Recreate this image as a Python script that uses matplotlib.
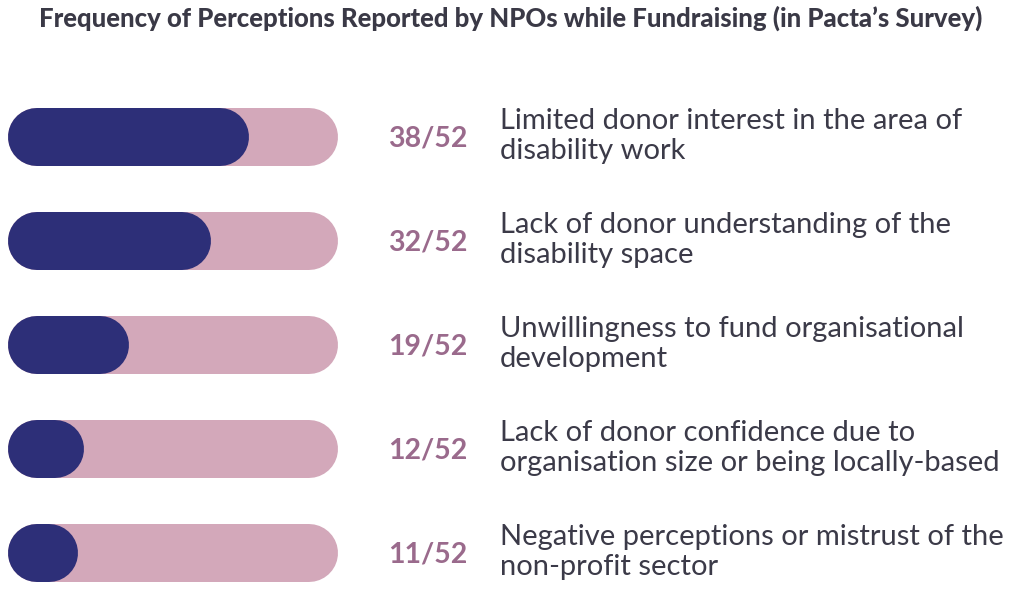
import matplotlib
matplotlib.use("Agg")
import matplotlib.pyplot as plt

# data
counts = [38, 32, 19, 12, 11]
total = 52
labels = [
    "Limited donor interest in the area of\ndisability work",
    "Lack of donor understanding of the\ndisability space",
    "Unwillingness to fund organisational\ndevelopment",
    "Lack of donor confidence due to\norganisation size or being locally-based",
    "Negative perceptions or mistrust of the\nnon-profit sector",
]
title = "Frequency of Perceptions Reported by NPOs while Fundraising (in Pacta\u2019s Survey)"

navy = "#2d2f78"
pink = "#d3a8ba"
mauve = "#9a6a8c"
textc = "#3b3a48"

W, H = 1024, 599
fig = plt.figure(figsize=(W / 100, H / 100), dpi=100)
fig.patch.set_facecolor("white")

# bar axes: x from 0 to total spans pixels 8..338, rows centered at 137..553
bx0, bx1 = 8, 338
ytop, ybot = 85, 605
ax = fig.add_axes([bx0 / W, 1 - ybot / H, (bx1 - bx0) / W, (ybot - ytop) / H])
ax.set_xlim(0, total)
n = len(counts)
ax.set_ylim(n - 0.5, -0.5)
ax.axis("off")

bar_h_px = 58
lw = bar_h_px * 72 / 100
r = (bar_h_px / 2) / (bx1 - bx0) * total  # cap radius in data units

for i, c in enumerate(counts):
    ax.plot([r, total - r], [i, i], color=pink, lw=lw, solid_capstyle="round", zorder=1)
    ax.plot([r, c - r], [i, i], color=navy, lw=lw, solid_capstyle="round", zorder=2)

# text axes in pixel coordinates
tx = fig.add_axes([0, 0, 1, 1])
tx.set_xlim(0, W)
tx.set_ylim(H, 0)
tx.axis("off")

tx.text(511, 18, title, ha="center", va="center", fontsize=18.5,
        fontweight="black", color="#3a3946", family="Lato")

for i, (c, lab) in enumerate(zip(counts, labels)):
    y = 137 + i * 104
    tx.text(467, y + 2, f"{c}/{total}", ha="right", va="center", fontsize=20.5,
            fontweight="bold", color=mauve, family="Lato")
    tx.text(500, y - 1, lab, ha="left", va="center", fontsize=21,
            color=textc, family="Lato", linespacing=1.2)

fig.savefig("out.png", dpi=100)
